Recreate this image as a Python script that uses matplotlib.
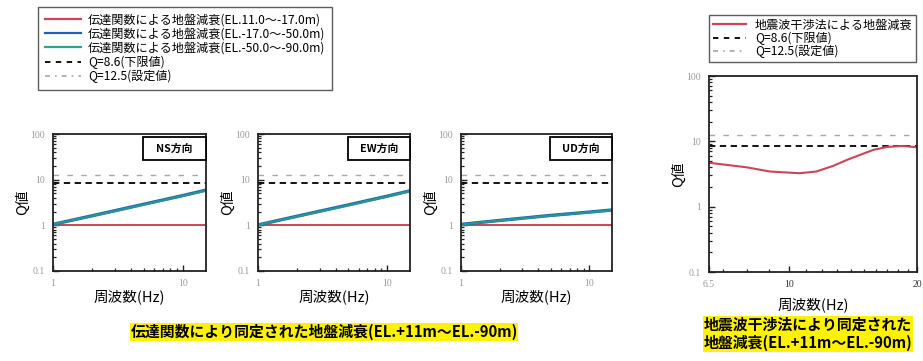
import matplotlib
matplotlib.use("Agg")
import matplotlib.pyplot as plt
from matplotlib.lines import Line2D
from matplotlib.patches import Rectangle
from matplotlib.ticker import LogLocator, FixedLocator, NullFormatter, FixedFormatter

plt.rcParams['font.family'] = ['Noto Sans CJK JP', 'DejaVu Sans']

# ---- data ----
freq_tf = [1, 2, 5, 10, 15]
ns_upper = [1.0, 1.0, 1.0, 1.0, 1.0]
ns_mid = [1.05, 1.62, 2.9, 4.5, 5.9]
ns_deep = [1.05, 1.6, 2.85, 4.45, 5.8]
ew_upper = [1.0, 1.0, 1.0, 1.0, 1.0]
ew_mid = [1.02, 1.58, 2.8, 4.35, 5.7]
ew_deep = [1.02, 1.56, 2.75, 4.3, 5.6]
ud_upper = [1.0, 1.0, 1.0, 1.0, 1.0]
ud_mid = [1.05, 1.28, 1.65, 1.95, 2.17]
ud_deep = [1.04, 1.27, 1.63, 1.93, 2.15]

freq_si = [6.5, 7.97, 9.04, 10.6, 11.6, 12.7, 13.7, 14.7, 15.8, 17.0, 18.5, 20.0]
q_si = [4.7, 4.0, 3.45, 3.25, 3.45, 4.2, 5.2, 6.2, 7.4, 8.2, 8.5, 8.1]

q_lower = 8.6
q_design = 12.5

panel_names = ["NS方向", "EW方向", "UD方向"]
legend_tf = ["伝達関数による地盤減衰(EL.11.0～-17.0m)",
             "伝達関数による地盤減衰(EL.-17.0～-50.0m)",
             "伝達関数による地盤減衰(EL.-50.0～-90.0m)",
             "Q=8.6(下限値)", "Q=12.5(設定値)"]
legend_si = ["地震波干渉法による地盤減衰", "Q=8.6(下限値)", "Q=12.5(設定値)"]
caption_tf = "伝達関数により同定された地盤減衰(EL.+11m～EL.-90m)"
caption_si = "地震波干渉法により同定された\n地盤減衰(EL.+11m～EL.-90m)"

RED = "#cc4455"
BLUE = "#1f62b0"
GREEN = "#2ea58a"
GRAY = "#a8a8a8"
TICKGRAY = "#9a9a9a"

W, H = 923, 361
fig = plt.figure(figsize=(W / 100, H / 100), dpi=100)


def px_axes(left, right, top, bottom):
    return fig.add_axes([left / W, 1 - bottom / H, (right - left) / W, (bottom - top) / H])


def style_axes(ax, xmin, xmax, xlabelpad=1):
    ax.set_xscale("log")
    ax.set_yscale("log")
    ax.set_xlim(xmin, xmax)
    ax.set_ylim(0.1, 100)
    for s in ax.spines.values():
        s.set_linewidth(1.3)
        s.set_color("#222222")
    ax.tick_params(which="both", direction="in", top=False, right=False,
                   colors="#222222", labelcolor=TICKGRAY, labelsize=7)
    ax.tick_params(which="major", length=4, width=1.0, pad=6)
    ax.tick_params(which="minor", length=2.5, width=0.9)
    ax.yaxis.set_major_locator(FixedLocator([0.1, 1, 10, 100]))
    ax.yaxis.set_major_formatter(FixedFormatter(["0.1", "1", "10", "100"]))
    ax.yaxis.set_minor_locator(LogLocator(base=10, subs=range(2, 10)))
    ax.yaxis.set_minor_formatter(NullFormatter())
    for lab in ax.get_yticklabels() + ax.get_xticklabels():
        lab.set_family("Liberation Serif")
    ax.set_ylabel("Q値", fontsize=10.5, labelpad=0)
    ax.set_xlabel("周波数(Hz)", fontsize=10.5, labelpad=xlabelpad)


def ref_lines(ax, xmin, xmax):
    ax.plot([xmin, xmax], [q_design, q_design], color=GRAY, lw=1.0,
            dashes=(4, 6))
    ax.plot([xmin, xmax], [q_lower, q_lower], color="black", lw=1.3,
            dashes=(3.5, 2.5))


lefts = [(53, 206), (258, 410), (461, 612)]
series = [(ns_upper, ns_mid, ns_deep), (ew_upper, ew_mid, ew_deep),
          (ud_upper, ud_mid, ud_deep)]
for (l, r), name, (up, mid, deep) in zip(lefts, panel_names, series):
    ax = px_axes(l, r, 134, 271)
    ref_lines(ax, 1, 15)
    ax.plot(freq_tf, up, color=RED, lw=1.4)
    ax.plot(freq_tf, mid, color=BLUE, lw=2.4)
    ax.plot(freq_tf, deep, color=GREEN, lw=1.6, alpha=0.75)
    style_axes(ax, 1, 15)
    ax.xaxis.set_major_locator(FixedLocator([1, 10]))
    ax.xaxis.set_major_formatter(FixedFormatter(["1", "10"]))
    ax.xaxis.set_minor_locator(LogLocator(base=10, subs=range(2, 10)))
    ax.xaxis.set_minor_formatter(NullFormatter())
    for lab in ax.get_xticklabels():
        lab.set_family("Liberation Serif")
    # direction label box anchored to the right spine
    ax.add_patch(Rectangle((0.59, 0.81), 0.41, 0.168, transform=ax.transAxes,
                           fc="white", ec="black", lw=1.3, zorder=5,
                           clip_on=False))
    ax.text(0.795, 0.894, name, transform=ax.transAxes, ha="center",
            va="center", fontsize=7.8, fontweight="bold", zorder=6)

# seismic interferometry panel
ax4 = px_axes(709, 917, 76, 272)
ref_lines(ax4, 6.5, 20)
ax4.plot(freq_si, q_si, color=RED, lw=1.5)
style_axes(ax4, 6.5, 20, xlabelpad=6)
ax4.xaxis.set_major_locator(FixedLocator([6.5, 10, 20]))
ax4.xaxis.set_major_formatter(FixedFormatter(["6.5", "10", "20"]))
ax4.xaxis.set_minor_locator(FixedLocator([7, 8, 9, 11, 12, 13, 14, 15, 16, 17, 18, 19]))
ax4.xaxis.set_minor_formatter(NullFormatter())
for lab in ax4.get_xticklabels():
    lab.set_family("Liberation Serif")
    if lab.get_text() in ("10", "20"):
        lab.set_color("#333333")

# legends
h_tf = [Line2D([], [], color=RED, lw=1.6),
        Line2D([], [], color=BLUE, lw=1.6),
        Line2D([], [], color=GREEN, lw=1.6),
        Line2D([], [], color="black", lw=1.3, dashes=(3, 3)),
        Line2D([], [], color=GRAY, lw=1.2, dashes=(3, 3, 1, 3))]
leg1 = fig.legend(h_tf, legend_tf, loc="upper left",
                  bbox_to_anchor=(38 / W, 1 - 7 / H), borderaxespad=0,
                  fontsize=8.7, frameon=True, fancybox=False,
                  edgecolor="#333333", handlelength=3.0, labelspacing=0.08,
                  borderpad=0.55, handletextpad=0.6)
leg1.get_frame().set_linewidth(1.0)

h_si = [Line2D([], [], color=RED, lw=1.6),
        Line2D([], [], color="black", lw=1.3, dashes=(3, 3)),
        Line2D([], [], color=GRAY, lw=1.2, dashes=(3, 3, 1, 3))]
leg2 = fig.legend(h_si, legend_si, loc="upper left",
                  bbox_to_anchor=(709 / W, 1 - 15 / H), borderaxespad=0,
                  fontsize=8.7, frameon=True, fancybox=False,
                  edgecolor="#333333", handlelength=2.8, labelspacing=0.0,
                  borderpad=0.3, handletextpad=0.7)
leg2.get_frame().set_linewidth(1.0)

# captions
fig.text(324 / W, 1 - 332 / H, caption_tf, ha="center", va="center",
         fontsize=10.7, fontweight="bold",
         bbox=dict(boxstyle="square,pad=0.05", fc="#fff200", ec="none"))
fig.text(808 / W, 1 - 334 / H, caption_si, ha="center", va="center",
         fontsize=10.7, fontweight="bold", linespacing=1.2,
         bbox=dict(boxstyle="square,pad=0.05", fc="#fff200", ec="none"))

fig.savefig("out.png", dpi=100)
